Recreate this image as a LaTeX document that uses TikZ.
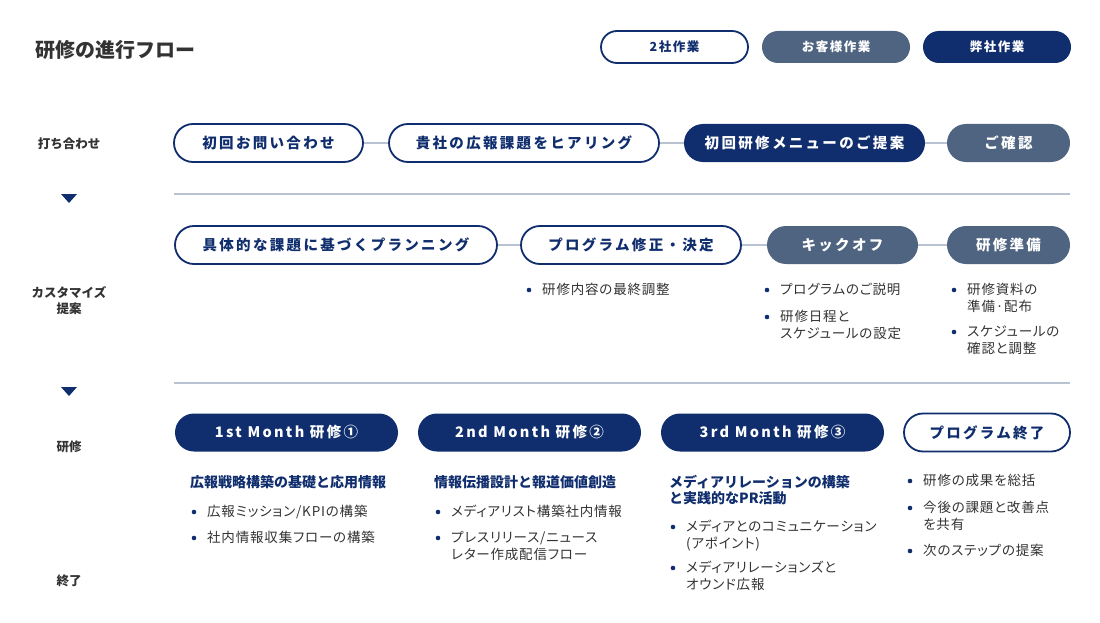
\documentclass[tikz,border=0pt]{standalone}
\usepackage{fontspec}
\setmainfont{Noto Sans CJK JP}
\usetikzlibrary{positioning}
\definecolor{navy}{HTML}{102E6E}
\definecolor{slate}{HTML}{4E6480}
\definecolor{rulegray}{HTML}{B8C2D0}
\definecolor{ink}{HTML}{333333}
\newcommand{\pillfont}{\fontsize{14.5}{17}\selectfont\bfseries\addfontfeature{LetterSpace=16}}
\newcommand{\keyfont}{\fontsize{12.5}{15}\selectfont\bfseries\addfontfeature{LetterSpace=12}}
\newcommand{\bodyfont}{\fontsize{13.5}{17}\selectfont\addfontfeature{RawFeature=+palt,LetterSpace=6}}
% bullet: name, x of text, y of first line, text
\newcommand{\bul}[4] {
    \fill[navy] (#2-13, #3) circle (2.3);
    \node[bultext] (#1) at (#2, #3-6.8) {#4};
}

\begin{document}
\begin{tikzpicture}[x=1pt,y=-1pt,
        pill/.style={rounded corners=19, minimum height=38, inner sep=0, font=\pillfont},
        opill/.style={pill, draw=navy, line width=1.8, fill=white, text=navy},
        gpill/.style={pill, fill=slate, text=white},
        npill/.style={pill, fill=navy, text=white},
        key/.style={rounded corners=16, minimum height=32, inner sep=0, font=\keyfont},
        link/.style={draw=rulegray, line width=1.2},
        sep/.style={draw=rulegray, line width=2},
        phase/.style={font=\fontsize{12.5}{16}\selectfont\bfseries, text=ink, align=center},
        subhead/.style={anchor=north west, inner sep=0, align=left, text=navy,
            font=\fontsize{14}{16}\selectfont\bfseries},
        bultext/.style={anchor=north west, inner sep=0, align=left, text=ink, font=\bodyfont}]
    \useasboundingbox (0,0) rectangle (1100,623);
    \fill[white] (0,0) rectangle (1100,623);

    % title and legend
    \node[anchor=west, inner sep=0, text=ink, font=\fontsize{20}{22}\selectfont\bfseries] (title) at (35,50) {研修の進行フロー};
    \node[key, draw=navy, line width=1.8, fill=white, text=navy, minimum width=147] (both) at (674.5,47) {2社作業};
    \node[key, fill=slate, text=white, minimum width=148] (cust) at (836,47) {お客様作業};
    \node[key, fill=navy, text=white, minimum width=148] (ours) at (997,47) {弊社作業};

    % phase labels
    \node[phase] (ph1) at (69,144) {打ち合わせ};
    \node[phase] (ph2) at (69,301) {カスタマイズ\\提案};
    \node[phase] (ph3) at (69,447) {研修};
    \node[phase] (ph4) at (69,581) {終了};
    \fill[navy] (61,194) -- (77,194) -- (69,203) -- cycle;
    \fill[navy] (61,387) -- (77,387) -- (69,396) -- cycle;

    % row 1
    \node[opill, minimum width=189] (inq) at (268.5,143) {初回お問い合わせ};
    \node[opill, minimum width=270] (hear) at (524,143) {貴社の広報課題をヒアリング};
    \node[npill, minimum width=241] (menu) at (804.5,143) {初回研修メニューのご提案};
    \node[gpill, minimum width=123] (conf) at (1008.5,143) {ご確認};
    \draw[link] (inq) -- (hear);
    \draw[link] (hear) -- (menu);
    \draw[link] (menu) -- (conf);

    \coordinate (s1a) at (174,194);
    \coordinate (s1b) at (1070,194);
    \draw[sep] (s1a) -- (s1b);

    % row 2
    \node[opill, minimum width=322] (plan) at (336,245) {具体的な課題に基づくプランニング};
    \node[opill, minimum width=220] (fix) at (631,245) {プログラム修正・決定};
    \node[gpill, minimum width=151] (kick) at (842.5,245) {キックオフ};
    \node[gpill, minimum width=123] (prep) at (1008.5,245) {研修準備};
    \draw[link] (plan) -- (fix);
    \draw[link] (fix) -- (kick);
    \draw[link] (kick) -- (prep);

    \bul{fixa}{542}{290}{研修内容の最終調整}
    \bul{kicka}{780}{290}{プログラムのご説明}
    \bul{kickb}{780}{317}{研修日程と\\スケジュールの設定}
    \bul{prepa}{967}{290}{研修資料の\\準備·配布}
    \bul{prepb}{967}{332}{スケジュールの\\確認と調整}

    \coordinate (s2a) at (174,383);
    \coordinate (s2b) at (1070,383);
    \draw[sep] (s2a) -- (s2b);

    % row 3
    \node[npill, minimum width=223] (mon1) at (286.5,432.5) {1st Month 研修①};
    \node[npill, minimum width=223] (mon2) at (529.5,432.5) {2nd Month 研修②};
    \node[npill, minimum width=223] (mon3) at (772.5,432.5) {3rd Month 研修③};
    \node[opill, minimum width=166] (fin) at (987,432.5) {プログラム終了};

    \node[subhead] (sub1) at (190,475) {広報戦略構築の基礎と応用情報};
    \node[subhead] (sub2) at (434,475) {情報伝播設計と報道価値創造};
    \node[subhead] (sub3) at (669,475) {メディアリレーションの構築\\と実践的なPR活動};

    \bul{mona}{207}{512}{広報ミッション/KPIの構築}
    \bul{monb}{207}{538}{社内情報収集フローの構築}
    \bul{mtwa}{451}{512}{メディアリスト構築社内情報}
    \bul{mtwb}{451}{538}{プレスリリース/ニュース\\レター作成配信フロー}
    \bul{mtha}{686}{527}{メディアとのコミュニケーション\\(アポイント)}
    \bul{mthb}{686}{568}{メディアリレーションズと\\オウンド広報}
    \bul{fina}{923}{481}{研修の成果を総括}
    \bul{finb}{923}{508}{今後の課題と改善点\\を共有}
    \bul{finc}{923}{551}{次のステップの提案}
\end{tikzpicture}
\end{document}
